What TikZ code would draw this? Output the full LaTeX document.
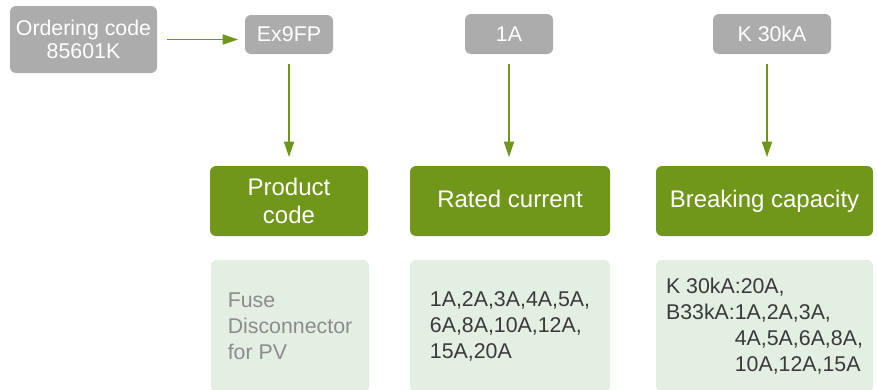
\documentclass[tikz,border=0pt]{standalone}
\usepackage{fontspec}
\setmainfont{Liberation Sans}
\usepackage{tikz}
\usetikzlibrary{arrows.meta,positioning}
\definecolor{codegray}{RGB}{172,172,172}
\definecolor{codegreen}{RGB}{112,150,26}
\definecolor{codelight}{RGB}{226,239,226}
\definecolor{textgray}{RGB}{140,140,140}
\definecolor{textdark}{RGB}{58,58,58}

\begin{document}
\begin{tikzpicture}[x=0.75pt, y=-0.75pt, codebox/.style={fill=codegray, rounded corners=4.5pt, inner sep=0pt, align=center, text=white, font=\fontsize{16}{17}\selectfont}, codehead/.style={fill=codegreen, rounded corners=4.5pt, inner sep=0pt, minimum height=52.5pt, align=center, text=white, font=\fontsize{18}{21}\selectfont}, codeinfo/.style={fill=codelight, rounded corners=4.5pt, inner sep=0pt, minimum height=99pt, align=left, text=textdark, font=\fontsize{16}{19.5}\selectfont}, arr/.style={-{Triangle[length=11.5pt, width=7.5pt]}, line width=1.1pt, draw=codegreen}
]
  \path[use as bounding box, clip] (0,0) rectangle (877,389);
  \node[codebox, minimum width=110.25pt, minimum height=50.25pt] (order) at (83.5,39.5) {Ordering code\\85601K};
  \node[codebox, minimum width=66pt, minimum height=29.25pt] (series) at (289,34.5) {Ex9FP};
  \node[codebox, minimum width=66pt, minimum height=30pt] (amp) at (509,34) {1A};
  \node[codebox, minimum width=88.5pt, minimum height=30pt] (kcap) at (772,34) {K 30kA};
  \node[codehead, minimum width=118.5pt] (prod) at (289,201) {Product\\code};
  \node[codehead, minimum width=150pt] (rated) at (510,201) {Rated current\vphantom{g}};
  \node[codehead, minimum width=162.75pt] (brk) at (764.5,201) {Breaking capacity};
  \node[codeinfo, minimum width=118.5pt, text=textgray] (prodinfo) at (290,326)
    {Fuse\\Disconnector\\for PV};
  \node[codeinfo, minimum width=150pt] (ratedinfo) at (510,326)
    {1A,2A,3A,4A,5A,\\6A,8A,10A,12A,\\15A,20A};
  \node[codeinfo, minimum width=162.75pt] (brkinfo) at (764.5,326)
    {K 30kA:20A,\\B33kA:1A,2A,3A,\\\phantom{B33kA:}4A,5A,6A,8A,\\\phantom{B33kA:}10A,12A,15A};
  \draw[arr, shorten <=7.5pt, shorten >=5pt] (order.east) -- (order.east -| series.west);
  \draw[arr, shorten <=7.5pt, shorten >=6.5pt] (series.south) -- (series.south |- prod.north);
  \draw[arr, shorten <=7.5pt, shorten >=6.5pt] (amp.south) -- (amp.south |- rated.north);
  \draw[arr, shorten <=7.5pt, shorten >=6.5pt] ([xshift=-3.75pt]kcap.south) -- ([xshift=-3.75pt]kcap.south |- brk.north);
\end{tikzpicture}
\end{document}
